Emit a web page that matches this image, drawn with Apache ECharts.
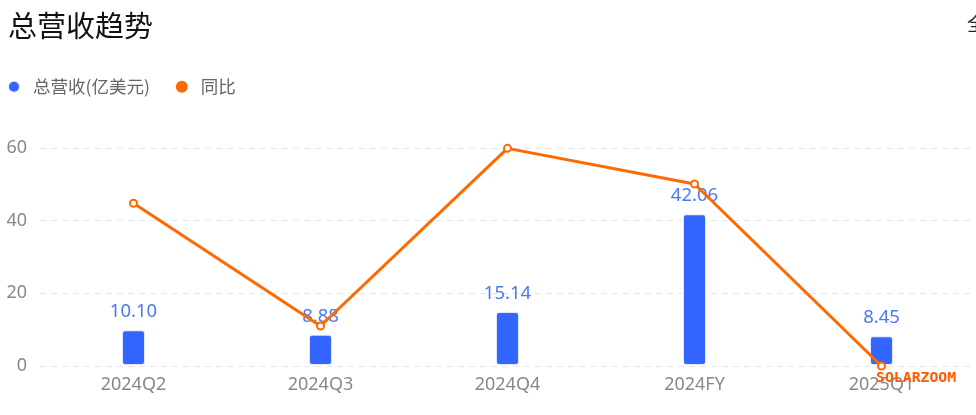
<!DOCTYPE html>
<html><head><meta charset="utf-8">
<script src="https://cdn.jsdelivr.net/npm/echarts@6/dist/echarts.min.js"></script>
<style>html,body{margin:0;padding:0;background:#fff}#c{width:976px;height:415px}</style>
</head><body><div id="c"></div>
<script>
const categories = ['2024Q2','2024Q3','2024Q4','2024FY','2025Q1'];
const revenue = [10.10, 8.88, 15.14, 42.06, 8.45];
const yoy = [44.8, 11.0, 59.9, 50.1, 0.0];
const yTicks = [0, 20, 40, 60];

const chart = echarts.init(document.getElementById('c'));
chart.setOption({
  animation: false,
  title: {text: '总营收趋势', left: 3, top: 6, textStyle: {fontSize: 29, fontWeight: 'normal', color: '#111', fontFamily: 'Noto Sans CJK SC'}},
  legend: {
    left: 2, top: 73, icon: 'circle', itemWidth: 12, itemHeight: 12, itemGap: 26,
    textStyle: {fontSize: 17.5, color: '#666', fontFamily: 'Noto Sans CJK SC', padding: [0, 0, 0, 8]},
    data: ['总营收(亿美元)', '同比']
  },
  graphic: [
    {type: 'text', left: 967, top: 14, style: {text: '全部', fontSize: 19, fill: '#222', fontFamily: 'Noto Sans CJK SC'}},
    {type: 'text', left: 876, top: 371, z: 100, style: {text: 'SOLARZOOM', fontSize: 14.8, fontWeight: 'bold', fill: '#ff5a00', fontFamily: 'DejaVu Sans Mono'}}
  ],
  grid: {left: 40, right: 1, top: 148, bottom: 49},
  xAxis: {
    type: 'category', data: categories,
    axisLine: {show: false}, axisTick: {show: false},
    axisLabel: {fontSize: 18, color: '#888', margin: 10, fontFamily: 'Noto Sans'}
  },
  yAxis: {
    type: 'value', min: 0, max: 60, interval: 20,
    axisLabel: {fontSize: 18, color: '#888', margin: 13, fontFamily: 'Noto Sans',
      formatter: v => yTicks.includes(v) ? String(v) : ''},
    splitLine: {lineStyle: {type: [6, 5], color: '#e6e6e6', width: 1}},
    axisLine: {show: false}, axisTick: {show: false}
  },
  series: [
    {
      name: '总营收(亿美元)', type: 'bar', data: revenue, barWidth: 25,
      itemStyle: {color: '#3366ff', borderRadius: 3, borderColor: 'rgba(255,255,255,0.85)', borderWidth: 2},
      label: {show: true, position: 'top', distance: 8, fontSize: 18.5, color: '#4a78f5', fontFamily: 'Noto Sans',
        formatter: p => p.value.toFixed(2)}
    },
    {
      name: '同比', type: 'line', data: yoy, z: 5,
      itemStyle: {color: '#ff6a00'},
      lineStyle: {color: '#ff6a00', width: 3},
      symbol: 'emptyCircle', symbolSize: 7
    }
  ]
});
</script></body></html>
